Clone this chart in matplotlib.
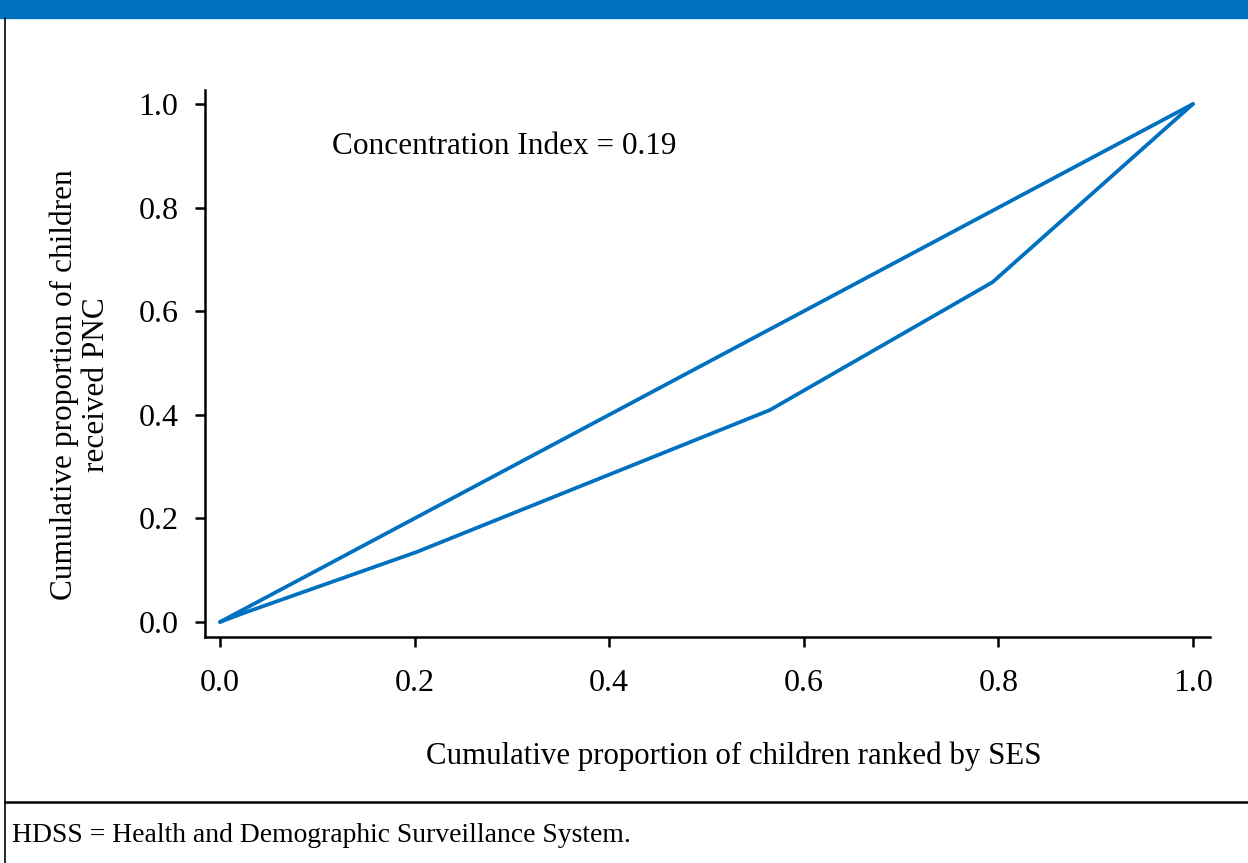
import matplotlib.pyplot as plt

# concentration curve
curve_x = [0.0, 0.024, 0.202, 0.565, 0.794, 1.0]
curve_y = [0.0, 0.017, 0.135, 0.409, 0.656, 1.0]
# line of equality
equal_x = [0.0, 1.0]
equal_y = [0.0, 1.0]

ticks = [0.0, 0.2, 0.4, 0.6, 0.8, 1.0]
tick_labels = ['0.0', '0.2', '0.4', '0.6', '0.8', '1.0']

blue = '#0070c0'
serif = 'Liberation Serif'

fig = plt.figure(figsize=(12.48, 8.63), dpi=100)

# banner and frame
fig.patches.append(plt.Rectangle((0, 1 - 18/863), 1, 18/863, transform=fig.transFigure,
                                 color=blue, zorder=0))
fig.add_artist(plt.Line2D([5/1248, 5/1248], [0, 1 - 18/863], transform=fig.transFigure,
                          color='black', lw=1.2))
fig.add_artist(plt.Line2D([5/1248, 1], [1 - 802/863, 1 - 802/863], transform=fig.transFigure,
                          color='black', lw=1.8))

ax = fig.add_axes([205/1248, 1 - 637/863, (1210 - 205)/1248, (637 - 90)/863])
ax.plot(equal_x, equal_y, color=blue, lw=2.7, solid_capstyle='round')
ax.plot(curve_x, curve_y, color=blue, lw=2.7, solid_capstyle='round')

ax.set_xlim(-0.0154, 1.0175)
ax.set_ylim(-0.029, 1.027)
ax.spines['top'].set_visible(False)
ax.spines['right'].set_visible(False)
ax.spines['left'].set_linewidth(1.8)
ax.spines['bottom'].set_linewidth(1.8)
ax.set_xticks(ticks)
ax.set_xticklabels(tick_labels, fontsize=23, family=serif)
ax.set_yticks(ticks)
ax.set_yticklabels(tick_labels, fontsize=23, family=serif)
ax.tick_params(axis='x', length=7, width=1.8, pad=16)
ax.tick_params(axis='y', length=7, width=1.8, pad=12)

ax.set_xlabel('Cumulative proportion of children ranked by SES', fontsize=22.2,
              family=serif, labelpad=31)
ax.xaxis.label.set_x(0.526)
ax.set_ylabel('Cumulative proportion of children\nreceived PNC', fontsize=22.5,
              family=serif, labelpad=20, linespacing=1.15)
ax.yaxis.label.set_y(0.461)

ax.text(0.115, 0.917, 'Concentration Index = 0.19', fontsize=22.5, family=serif,
        ha='left', va='center')

fig.text(12/1248, 1 - 835/863, 'HDSS = Health and Demographic Surveillance System.',
         fontsize=19.9, family=serif, ha='left', va='center')

fig.savefig('out.png', dpi=100)
